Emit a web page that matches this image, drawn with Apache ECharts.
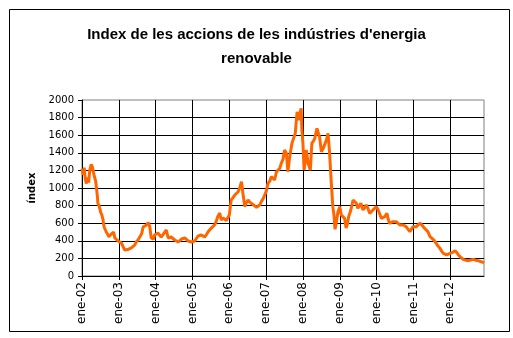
<!DOCTYPE html>
<html>
<head>
<meta charset="utf-8">
<title>Index de les accions de les indústries d'energia renovable</title>
<script src="https://cdn.jsdelivr.net/npm/echarts@6/dist/echarts.min.js"></script>
<style>
  html, body { margin: 0; padding: 0; background: #ffffff; }
  #chart { width: 513px; height: 338px; }
</style>
</head>
<body>
<div id="chart"></div>
<script>
// Time position in years (2002.0 = start of January 2002) and index level
const yearPos = [
  2002.00, 2002.03, 2002.06, 2002.09, 2002.12, 2002.15, 2002.18, 2002.21, 2002.25, 2002.28,
  2002.31, 2002.34, 2002.37, 2002.39, 2002.42, 2002.43, 2002.46, 2002.48, 2002.51, 2002.54,
  2002.57, 2002.60, 2002.63, 2002.66, 2002.70, 2002.73, 2002.75, 2002.78, 2002.80, 2002.83,
  2002.86, 2002.89, 2002.93, 2002.98, 2003.02, 2003.07, 2003.11, 2003.16, 2003.20, 2003.24,
  2003.29, 2003.34, 2003.38, 2003.43, 2003.47, 2003.52, 2003.57, 2003.62, 2003.66, 2003.70,
  2003.75, 2003.80, 2003.84, 2003.88, 2003.94, 2003.97, 2004.02, 2004.06, 2004.10, 2004.15,
  2004.20, 2004.25, 2004.29, 2004.34, 2004.38, 2004.42, 2004.47, 2004.52, 2004.57, 2004.61,
  2004.66, 2004.70, 2004.75, 2004.79, 2004.84, 2004.88, 2004.93, 2004.97, 2005.02, 2005.06,
  2005.10, 2005.15, 2005.20, 2005.24, 2005.29, 2005.33, 2005.38, 2005.42, 2005.47, 2005.51,
  2005.56, 2005.60, 2005.65, 2005.69, 2005.74, 2005.78, 2005.83, 2005.87, 2005.92, 2005.96,
  2006.00, 2006.05, 2006.10, 2006.15, 2006.20, 2006.24, 2006.29, 2006.33, 2006.37, 2006.42,
  2006.46, 2006.51, 2006.55, 2006.60, 2006.65, 2006.69, 2006.74, 2006.78, 2006.83, 2006.87,
  2006.92, 2006.96, 2007.00, 2007.05, 2007.10, 2007.14, 2007.19, 2007.23, 2007.28, 2007.32,
  2007.37, 2007.41, 2007.46, 2007.50, 2007.55, 2007.59, 2007.64, 2007.70, 2007.73, 2007.79,
  2007.84, 2007.88, 2007.92, 2007.95, 2007.97, 2008.00, 2008.03, 2008.06, 2008.09, 2008.14,
  2008.20, 2008.24, 2008.28, 2008.32, 2008.38, 2008.42, 2008.45, 2008.50, 2008.55, 2008.59,
  2008.64, 2008.68, 2008.72, 2008.77, 2008.81, 2008.84, 2008.87, 2008.90, 2008.95, 2009.00,
  2009.04, 2009.09, 2009.13, 2009.17, 2009.20, 2009.24, 2009.30, 2009.36, 2009.39, 2009.45,
  2009.49, 2009.54, 2009.57, 2009.63, 2009.68, 2009.72, 2009.77, 2009.81, 2009.86, 2009.90,
  2009.95, 2009.99, 2010.03, 2010.06, 2010.13, 2010.18, 2010.22, 2010.28, 2010.31, 2010.35,
  2010.40, 2010.44, 2010.49, 2010.53, 2010.58, 2010.63, 2010.67, 2010.72, 2010.76, 2010.80,
  2010.85, 2010.90, 2010.94, 2010.99, 2011.04, 2011.08, 2011.13, 2011.17, 2011.23, 2011.30,
  2011.35, 2011.39, 2011.45, 2011.50, 2011.55, 2011.59, 2011.65, 2011.72, 2011.77, 2011.81,
  2011.86, 2011.90, 2011.95, 2011.99, 2012.05, 2012.13, 2012.18, 2012.22, 2012.28, 2012.35,
  2012.42, 2012.49, 2012.55, 2012.62, 2012.69, 2012.76, 2012.82, 2012.89, 2012.915
];

const indexValues = [
  1220, 1150, 1230, 1100, 1050, 1120, 1060, 1200, 1270, 1240,
  1180, 1125, 1080, 1011, 900, 830, 800, 770, 720, 693,
  640, 557, 540, 500, 470, 445, 432, 470, 466, 490,
  500, 432, 420, 398, 390, 375, 340, 295, 273, 300,
  318, 320, 330, 350, 386, 410, 432, 480, 557, 540,
  580, 607, 560, 432, 420, 466, 470, 489, 470, 443,
  470, 490, 523, 432, 450, 443, 430, 409, 395, 386,
  405, 420, 425, 432, 415, 398, 390, 386, 392, 398,
  420, 455, 470, 466, 455, 443, 470, 500, 520, 545,
  560, 580, 630, 680, 716, 636, 660, 655, 630, 636,
  693, 864, 890, 920, 940, 958, 1010, 1072, 939, 788,
  830, 864, 840, 845, 810, 788, 780, 769, 810, 845,
  880, 920, 958, 1053, 1080, 1129, 1110, 1091, 1185, 1200,
  1223, 1280, 1330, 1431, 1393, 1185, 1355, 1507, 1526, 1621,
  1866, 1772, 1850, 1905, 1659, 1500, 1204, 1300, 1431, 1280,
  1204, 1507, 1530, 1564, 1678, 1620, 1583, 1412, 1450, 1469,
  1550, 1621, 1412, 1053, 788, 700, 530, 600, 731, 788,
  693, 712, 655, 545, 580, 674, 750, 864, 883, 826,
  769, 769, 826, 750, 780, 807, 760, 712, 730, 750,
  760, 788, 760, 731, 655, 660, 674, 712, 650, 599,
  610, 617, 620, 617, 600, 580, 590, 580, 570, 561,
  540, 504, 530, 561, 560, 561, 580, 599, 580, 542,
  520, 504, 447, 430, 410, 390, 350, 314, 280, 257,
  245, 239, 250, 257, 265, 288, 265, 239, 215, 189,
  180, 174, 182, 189, 180, 174, 165, 155, 150
];

const titleLines = ["Index de les accions de les indústries d'energia", 'renovable'];
const yAxisTitle = 'índex';
const monthPrefix = 'ene-';

const TITLE_FONT = '"Liberation Sans", "DejaVu Sans", sans-serif';
const AXIS_FONT = '"DejaVu Sans", "Liberation Sans", sans-serif';

const seriesData = yearPos.map((x, i) => [x, indexValues[i]]);

const chart = echarts.init(document.getElementById('chart'), null, { renderer: 'canvas' });

chart.setOption({
  backgroundColor: '#ffffff',
  animation: false,
  title: {
    text: titleLines.join('\n'),
    left: 'center',
    top: 18,
    textStyle: {
      fontFamily: TITLE_FONT,
      fontSize: 15,
      fontWeight: 'bold',
      color: '#000000',
      lineHeight: 24
    }
  },
  graphic: [{
    type: 'rect',
    left: 7,
    top: 7,
    shape: { width: 500, height: 322 },
    style: { fill: 'none', stroke: '#000000', lineWidth: 1 },
    silent: true,
    z: -1
  }],
  grid: {
    left: 82,
    top: 100,
    right: 29,
    bottom: 62,
    show: true,
    borderColor: '#808080',
    borderWidth: 1,
    backgroundColor: '#ffffff'
  },
  xAxis: {
    type: 'value',
    min: 2002,
    max: 2012.915,
    interval: 1,
    axisLine: { show: true, lineStyle: { color: '#000000', width: 1 } },
    axisTick: { show: true, length: 4, lineStyle: { color: '#000000' } },
    splitLine: { show: true, showMinLine: false, showMaxLine: false, lineStyle: { color: '#000000', width: 1 } },
    axisLabel: {
      rotate: 90,
      margin: 6,
      fontFamily: AXIS_FONT,
      fontSize: 12,
      color: '#000000',
      showMaxLabel: false,
      formatter: v => monthPrefix + String(Math.round(v)).slice(2)
    }
  },
  yAxis: {
    type: 'value',
    min: 0,
    max: 2000,
    interval: 200,
    name: yAxisTitle,
    nameLocation: 'middle',
    nameGap: 44,
    nameRotate: 90,
    nameTextStyle: { fontFamily: AXIS_FONT, fontSize: 10, fontWeight: 'bold', color: '#000000' },
    axisLine: { show: true, lineStyle: { color: '#000000', width: 1 } },
    axisTick: { show: true, length: 4, lineStyle: { color: '#000000' } },
    splitLine: { show: true, showMinLine: false, showMaxLine: false, lineStyle: { color: '#000000', width: 1 } },
    axisLabel: {
      margin: 8,
      fontFamily: AXIS_FONT,
      fontSize: 10,
      color: '#000000',
      formatter: v => String(v)
    }
  },
  series: [{
    type: 'line',
    data: seriesData,
    showSymbol: false,
    smooth: false,
    lineStyle: { color: '#FF6600', width: 3 },
    itemStyle: { color: '#FF6600' },
    z: 3
  }]
});
</script>
</body>
</html>
